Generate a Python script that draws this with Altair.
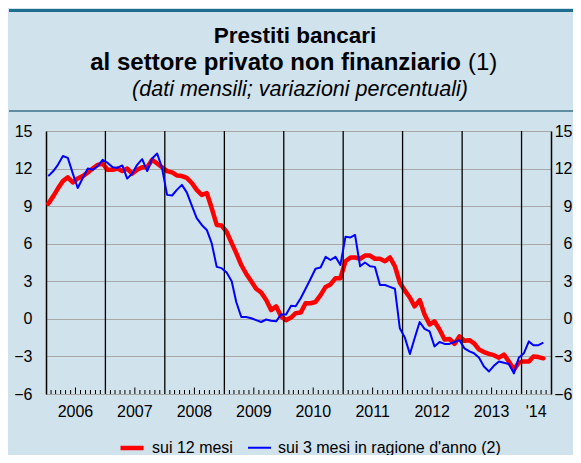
import altair as alt
import pandas as pd

# ---------------- data ----------------
SERIES = ["sui 12 mesi", "sui 3 mesi in ragione d'anno (2)"]

# monthly values, Jan 2006 .. May 2014
red_12m = [
    9.2, 9.8, 10.4, 11.0, 11.3, 10.9, 11.2, 11.4, 11.7, 12.0, 12.3, 12.4,   # 2006
    11.9, 11.9, 12.0, 11.8, 12.0, 11.6, 11.9, 12.1, 12.1, 12.7, 12.4, 12.1,  # 2007
    11.8, 11.7, 11.45, 11.4, 11.25, 10.85, 10.3, 9.9, 10.05, 8.85, 7.5, 7.45,  # 2008
    6.95, 6.05, 5.25, 4.3, 3.6, 3.0, 2.4, 2.1, 1.5, 0.7, 1.0, 0.2,   # 2009
    -0.1, 0.1, 0.45, 0.5, 1.25, 1.25, 1.35, 1.9, 2.55, 2.75, 3.25, 3.25,  # 2010
    4.6, 4.9, 4.9, 4.8, 5.05, 5.05, 4.8, 4.8, 4.6, 4.9, 4.2, 2.9,   # 2011
    2.25, 1.7, 1.0, 1.5, 0.35, -0.45, -0.2, -0.85, -1.65, -1.6, -2.0, -1.4,  # 2012
    -1.75, -1.7, -1.95, -2.45, -2.65, -2.8, -2.9, -3.1, -2.85, -3.4, -4.05, -3.5,  # 2013
    -3.4, -3.4, -3.0, -3.05, -3.15,  # 2014
]
blue_3m = [
    11.4, 11.8, 12.3, 13.0, 12.85, 11.6, 10.45, 11.25, 12.0, 11.9, 12.2, 12.7,  # 2006
    12.45, 12.1, 12.05, 12.25, 11.2, 11.6, 12.3, 12.75, 11.8, 12.8, 13.2, 12.05,  # 2007
    9.9, 9.85, 10.3, 10.7, 10.1, 9.05, 8.05, 7.5, 7.1, 6.05, 4.15, 4.05,  # 2008
    3.7, 3.0, 1.35, 0.15, 0.15, 0.05, -0.1, -0.25, -0.05, -0.15, -0.2, 0.35,  # 2009
    0.35, 1.05, 1.0, 1.65, 2.4, 3.2, 4.0, 4.1, 4.95, 4.7, 4.95, 4.3,  # 2010
    6.55, 6.5, 6.7, 4.2, 4.5, 4.2, 4.15, 2.7, 2.7, 2.55, 2.4, -0.75,  # 2011
    -1.5, -2.8, -1.55, -0.25, -0.8, -1.0, -2.2, -1.85, -2.0, -2.0, -1.85, -1.7,  # 2012
    -2.35, -2.6, -2.75, -3.1, -3.8, -4.2, -3.75, -3.4, -3.5, -3.6, -4.35, -3.1,  # 2013
    -2.75, -1.8, -2.1, -2.1, -1.9,  # 2014
]
year_labels = ["2006", "2007", "2008", "2009", "2010", "2011", "2012", "2013", "'14"]
y_ticks = [-6, -3, 0, 3, 6, 9, 12, 15]

title_1 = "Prestiti bancari"
title_2 = "al settore privato non finanziario"
title_2_note = "(1)"
subtitle = "(dati mensili; variazioni percentuali)"

# ---------------- tables ----------------
dates = [f"{2006 + i // 12}-{i % 12 + 1:02d}-15T00:00:00" for i in range(len(red_12m))]
df = pd.DataFrame({
    "date": dates * 2,
    "serie": [SERIES[0]] * len(red_12m) + [SERIES[1]] * len(blue_3m),
    "value": red_12m + blue_3m,
})

label_dates = [f"{2006 + k}-07-01T00:00:00" for k in range(8)] + ["2014-04-01T00:00:00"]
df_years = pd.DataFrame({"date": label_dates, "label": year_labels})
df_bounds = pd.DataFrame({"date": [f"{y}-01-01T00:00:00" for y in range(2007, 2015)]})
short_ticks, long_ticks = [], []
for y in range(2006, 2015):
    for m in range(2, 13):
        if y == 2014 and m > 6:
            break
        d = f"{y}-{m:02d}-01T00:00:00"
        (long_ticks if m == 7 else short_ticks).append(d)
df_short = pd.DataFrame({"date": short_ticks})
df_long = pd.DataFrame({"date": long_ticks})

# ---------------- layout ----------------
W, H = 505, 263
FONT = "Liberation Sans"
BG = "#d0e2ec"

xscale = alt.Scale(domain=[alt.DateTime(year=2006, month=1, date=1),
                           alt.DateTime(year=2014, month=7, date=1)])
yscale = alt.Scale(domain=[-6, 15], nice=False, zero=False)

color_scale = alt.Scale(domain=SERIES, range=["#ff0000", "#0000ff"])
width_scale = alt.Scale(domain=SERIES, range=[4.5, 2])
leg = alt.Legend(orient="none", legendX=72, legendY=303, direction="horizontal",
                 title=None, labelFontSize=16, labelFont=FONT, labelColor="black",
                 labelLimit=400, symbolType="stroke", symbolSize=529, labelOffset=6,
                 columnPadding=11)

x_axis = alt.Axis(title=None, labels=False, ticks=False, grid=False,
                  domainColor="black", domainWidth=1.5)
y_left = alt.Axis(values=y_ticks, title=None, orient="left", grid=True,
                  gridColor="#a8a8a8", gridWidth=1, ticks=False, labelPadding=14,
                  labelFontSize=16, labelFont=FONT, labelColor="black",
                  domainColor="black", domainWidth=1.5)
y_right = alt.Axis(values=y_ticks, title=None, orient="right", grid=False,
                   ticks=False, labelPadding=21, labelAlign="right",
                   labelFontSize=16, labelFont=FONT, labelColor="black",
                   domainColor="black", domainWidth=1.5)

base = alt.Chart(df)

red = base.transform_filter(alt.datum.serie == SERIES[0]).mark_line(
    strokeJoin="round", strokeCap="round").encode(
    x=alt.X("date:T", scale=xscale, axis=x_axis),
    y=alt.Y("value:Q", scale=yscale, axis=y_left),
    color=alt.Color("serie:N", scale=color_scale, legend=leg),
    strokeWidth=alt.StrokeWidth("serie:N", scale=width_scale, legend=leg),
)
blue = base.transform_filter(alt.datum.serie == SERIES[1]).mark_line(
    strokeJoin="round").encode(
    x=alt.X("date:T", scale=xscale, axis=None),
    y=alt.Y("value:Q", scale=yscale, axis=y_right),
    color=alt.Color("serie:N", scale=color_scale, legend=leg),
    strokeWidth=alt.StrokeWidth("serie:N", scale=width_scale, legend=leg),
)

bounds = alt.Chart(df_bounds).mark_rule(color="black", strokeWidth=1.3).encode(
    x=alt.X("date:T", scale=xscale, axis=None), y=alt.value(0), y2=alt.value(H))
ticks_s = alt.Chart(df_short).mark_rule(color="black", strokeWidth=1).encode(
    x=alt.X("date:T", scale=xscale, axis=None), y=alt.value(H - 4), y2=alt.value(H))
ticks_l = alt.Chart(df_long).mark_rule(color="black", strokeWidth=1).encode(
    x=alt.X("date:T", scale=xscale, axis=None), y=alt.value(H - 6.5), y2=alt.value(H))
years = alt.Chart(df_years).mark_text(fontSize=16, font=FONT, color="black",
                                      baseline="middle", align="center").encode(
    x=alt.X("date:T", scale=xscale, axis=None), y=alt.value(H + 18), text="label:N")

def txt(s, x, y, **kw):
    return alt.Chart(pd.DataFrame({"t": [s]})).mark_text(
        font=FONT, color="black", baseline="middle", **kw).encode(
        text="t:N", x=alt.value(x), y=alt.value(y))

t1 = txt(title_1, 249, -95, fontSize=22.5, fontWeight="bold", align="center")
t2 = txt(title_2, 415, -68, fontSize=24, fontWeight="bold", align="right")
t2n = txt(title_2_note, 422, -68, fontSize=24, align="left")
t3 = txt(subtitle, 254, -41, fontSize=21.5, fontStyle="italic", align="center")

top_line = alt.Chart(pd.DataFrame({"a": [0]})).mark_rule(
    color="#1f6e8f", strokeWidth=3).encode(
    x=alt.value(-37), x2=alt.value(535), y=alt.value(-120.5))
sep_line = alt.Chart(pd.DataFrame({"a": [0]})).mark_rule(
    color="#3b6f86", strokeWidth=1.5).encode(
    x=alt.value(-37), x2=alt.value(535), y=alt.value(-20))

chart = alt.layer(
    red, bounds, ticks_s, ticks_l, blue, years, t1, t2, t2n, t3, top_line, sep_line
).resolve_axis(y="independent").properties(
    width=W, height=H,
    autosize=alt.AutoSizeParams(type="none"),
    padding={"left": 38, "top": 123, "right": 22, "bottom": 61},
    background=BG,
).configure_view(fill="white", strokeWidth=0).configure(font=FONT)

chart.save("out.html", embed_options={"renderer": "svg", "actions": False})
